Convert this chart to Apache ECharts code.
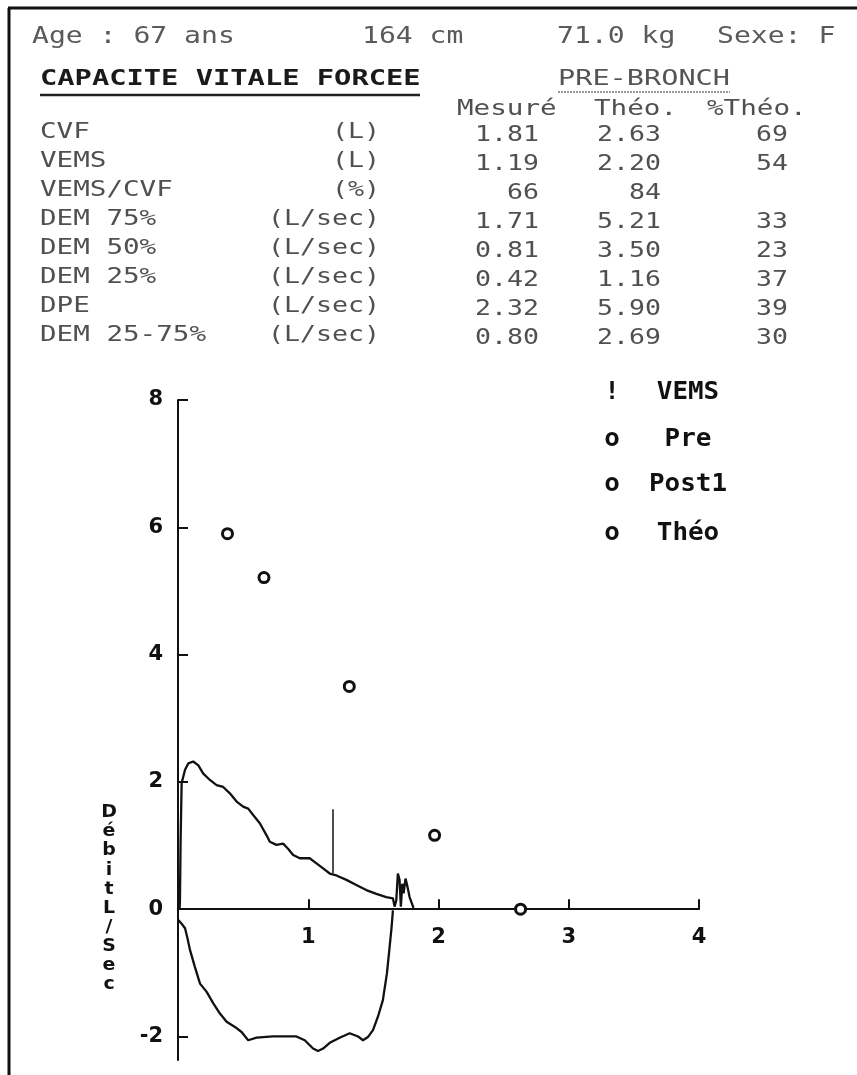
<!DOCTYPE html>
<html><head><meta charset="utf-8">
<script src="https://cdn.jsdelivr.net/npm/echarts@6/dist/echarts.min.js"></script>
<style>html,body{margin:0;padding:0;background:#fff}#c{width:857px;height:1075px}</style>
</head><body><div id="c"></div>
<script>
// ---- header / table data ----
const headerItems = ['Age : 67 ans', '164 cm', '71.0 kg', 'Sexe: F'];
const sectionTitle = 'CAPACITE VITALE FORCEE';
const phaseTitle = 'PRE-BRONCH';
const columnTitles = ['Mesuré', 'Théo.', '%Théo.'];
const rowLabels = ['CVF', 'VEMS', 'VEMS/CVF', 'DEM 75%', 'DEM 50%', 'DEM 25%', 'DPE', 'DEM 25-75%'];
const rowUnits = ['(L)', '(L)', '(%)', '(L/sec)', '(L/sec)', '(L/sec)', '(L/sec)', '(L/sec)'];
const measured = ['1.81', '1.19', '66', '1.71', '0.81', '0.42', '2.32', '0.80'];
const theoretical = ['2.63', '2.20', '84', '5.21', '3.50', '1.16', '5.90', '2.69'];
const pctTheo = ['69', '54', '', '33', '23', '37', '39', '30'];

// ---- legend ----
const legendSymbols = ['!', 'o', 'o', 'o'];
const legendLabels = ['VEMS', 'Pre', 'Post1', 'Théo'];

// ---- axes ----
const xTicks = [1, 2, 3, 4];
const yTicks = [8, 6, 4, 2, 0, -2];
const yAxisName = 'Débit L/Sec';

// ---- curves (volume L, flow L/s) ----
const expiratoryFlow = [[0.012,0.0],[0.015,0.14],[0.020,1.08],[0.028,1.98],[0.054,2.19],[0.079,2.29],[0.117,2.32],[0.156,2.26],[0.194,2.13],[0.245,2.03],[0.296,1.95],[0.347,1.92],[0.398,1.82],[0.45,1.69],[0.50,1.61],[0.539,1.58],[0.577,1.48],[0.628,1.35],[0.68,1.16],[0.705,1.06],[0.756,1.01],[0.807,1.03],[0.845,0.95],[0.884,0.85],[0.935,0.80],[1.011,0.80],[1.063,0.72],[1.114,0.64],[1.165,0.56],[1.216,0.53],[1.293,0.46],[1.369,0.38],[1.446,0.30],[1.523,0.24],[1.599,0.19],[1.650,0.17],[1.663,0.04],[1.676,0.14],[1.688,0.56],[1.701,0.46],[1.711,0.04],[1.722,0.40],[1.732,0.25],[1.747,0.48],[1.762,0.35],[1.778,0.19],[1.808,0.02]];
const inspiratoryFlow = [[0.002,-0.17],[0.028,-0.23],[0.054,-0.30],[0.071,-0.44],[0.092,-0.64],[0.130,-0.91],[0.169,-1.17],[0.22,-1.30],[0.271,-1.48],[0.322,-1.64],[0.373,-1.77],[0.437,-1.85],[0.488,-1.93],[0.539,-2.06],[0.603,-2.02],[0.730,-2.00],[0.909,-2.00],[0.973,-2.06],[1.037,-2.19],[1.075,-2.23],[1.114,-2.19],[1.165,-2.10],[1.241,-2.02],[1.318,-1.95],[1.382,-2.00],[1.420,-2.06],[1.458,-2.01],[1.497,-1.90],[1.535,-1.69],[1.573,-1.43],[1.604,-1.01],[1.625,-0.59],[1.640,-0.28],[1.650,-0.02]];
const vemsMark = [[1.19,0.57],[1.19,1.57]];
const theoPoints = [[0.38,5.90],[0.66,5.21],[1.315,3.50],[1.97,1.16],[2.63,0]];

// ---- helpers ----
const MONO = '"DejaVu Sans Mono", monospace';
function T(text, x, y, o) {
  o = o || {};
  const fs = o.fs || 21, cw = o.cw || 16.4;
  const sx = o.sx || cw / (0.602 * fs);
  const al = o.align || 'left';
  return { type: 'text', x: x, y: y, scaleX: sx, z: 10, silent: true,
    style: { text: text, font: (o.bold ? 'bold ' : '') + fs + 'px ' + (o.family || MONO),
      fill: o.fill || '#505050', textAlign: al, align: al,
      textVerticalAlign: o.va || 'middle', verticalAlign: o.va || 'middle', lineHeight: o.lh } };
}
function L(x1, y1, x2, y2, w, c, dash) {
  return { type: 'line', z: 10, silent: true, shape: { x1, y1, x2, y2 },
    style: { stroke: c || '#222', lineWidth: w || 2, lineDash: dash || null } };
}

const g = [];
// frame
g.push(L(8, 8, 857, 8, 3, '#111'));
g.push(L(9, 8, 9, 1075, 3, '#111'));
// header row
const hx = [32, 362, 557, 717];
headerItems.forEach((s, i) => g.push(T(s, hx[i], 37, { fs: 23, cw: 16.9, fill: '#5a5a5a' })));
// titles
g.push(T(sectionTitle, 40, 80, { fs: 21, cw: 17.3, bold: true, fill: '#1a1a1a' }));
g.push(L(40, 95, 420, 95, 2.5, '#222'));
g.push(T(phaseTitle, 558, 80, { fs: 21, cw: 17.2, fill: '#555' }));
g.push(L(558, 92, 730, 92, 1.3, '#777', [2, 1]));
const cx = [457, 594, 707];
columnTitles.forEach((s, i) => g.push(T(s, cx[i], 110, { fs: 21, cw: 16.6 })));
// table rows
rowLabels.forEach((s, i) => {
  const y = 133 + 29 * i;
  g.push(T(s, 40, y, { fs: 21, cw: 16.6 }));
  g.push(T(rowUnits[i], 380, y, { fs: 21, cw: 16.0, align: 'right' }));
  g.push(T(measured[i], 539, y + 3, { fs: 21, cw: 16.0, align: 'right' }));
  g.push(T(theoretical[i], 661, y + 3, { fs: 21, cw: 16.0, align: 'right' }));
  if (pctTheo[i]) g.push(T(pctTheo[i], 788, y + 3, { fs: 21, cw: 16.0, align: 'right' }));
});
// legend
const ly = [393, 440, 485, 534];
legendLabels.forEach((s, i) => {
  g.push(T(legendSymbols[i], 612, ly[i], { fs: 24, sx: 1.08, bold: true, fill: '#111', align: 'center' }));
  g.push(T(s, 688, ly[i], { fs: 24, sx: 1.08, bold: true, fill: '#111', align: 'center' }));
});
// y axis name (stacked letters)
g.push(T(yAxisName.replace(' ', '').split('').join('\n'), 109, 803,
  { fs: 18, sx: 1.05, bold: true, fill: '#111', align: 'center', va: 'top', lh: 19.1, family: '"DejaVu Sans", sans-serif' }));

const axisFont = { color: '#111', fontSize: 21, fontWeight: 'bold', fontFamily: '"DejaVu Sans", sans-serif' };
const ink = { color: '#111', width: 2 };

const chart = echarts.init(document.getElementById('c'), null, { renderer: 'canvas' });
chart.setOption({
  animation: false,
  backgroundColor: '#fff',
  grid: { left: 178, right: 158, top: 400, bottom: 15, containLabel: false, outerBoundsMode: 'none' },
  xAxis: {
    type: 'value', min: 0, max: 4, interval: 1, position: 'bottom',
    axisLine: { show: true, onZero: true, lineStyle: ink },
    axisTick: { show: true, inside: true, length: 10, lineStyle: ink },
    axisLabel: { show: false },
    splitLine: { show: false }
  },
  yAxis: [
    { type: 'value', min: -2.37, max: 8, position: 'left',
      axisLine: { show: true, onZero: false, lineStyle: ink },
      axisTick: { show: true, inside: true, length: 10, customValues: yTicks, lineStyle: ink },
      axisLabel: Object.assign({ customValues: yTicks, margin: 15 }, axisFont),
      splitLine: { show: false } }
  ],
  series: [
    { name: 'Pre', type: 'line', data: expiratoryFlow, showSymbol: false, smooth: false,
      lineStyle: { color: '#111', width: 2.3 }, z: 3 },
    { name: 'Pre insp', type: 'line', data: inspiratoryFlow, showSymbol: false, smooth: false,
      lineStyle: { color: '#111', width: 2.3 }, z: 3 },
    { name: 'VEMS', type: 'line', data: vemsMark, showSymbol: false,
      lineStyle: { color: '#222', width: 1.6 }, z: 3 },
    { name: 'Théo', type: 'scatter', data: theoPoints, symbol: 'circle', symbolSize: 10,
      itemStyle: { color: '#fff', borderColor: '#111', borderWidth: 3, opacity: 1 }, z: 5 }
  ]
});

// x-axis tick labels placed through the axis scale (under the zero line)
const zeroY = chart.convertToPixel({ yAxisIndex: 0 }, 0);
xTicks.forEach(v => {
  const px = chart.convertToPixel({ xAxisIndex: 0 }, v);
  g.push(T(String(v), px, zeroY + 28, { fs: 21, sx: 1, bold: true, fill: '#111', align: 'center',
    family: '"DejaVu Sans", sans-serif' }));
});
chart.setOption({ graphic: { elements: g } });
</script></body></html>
